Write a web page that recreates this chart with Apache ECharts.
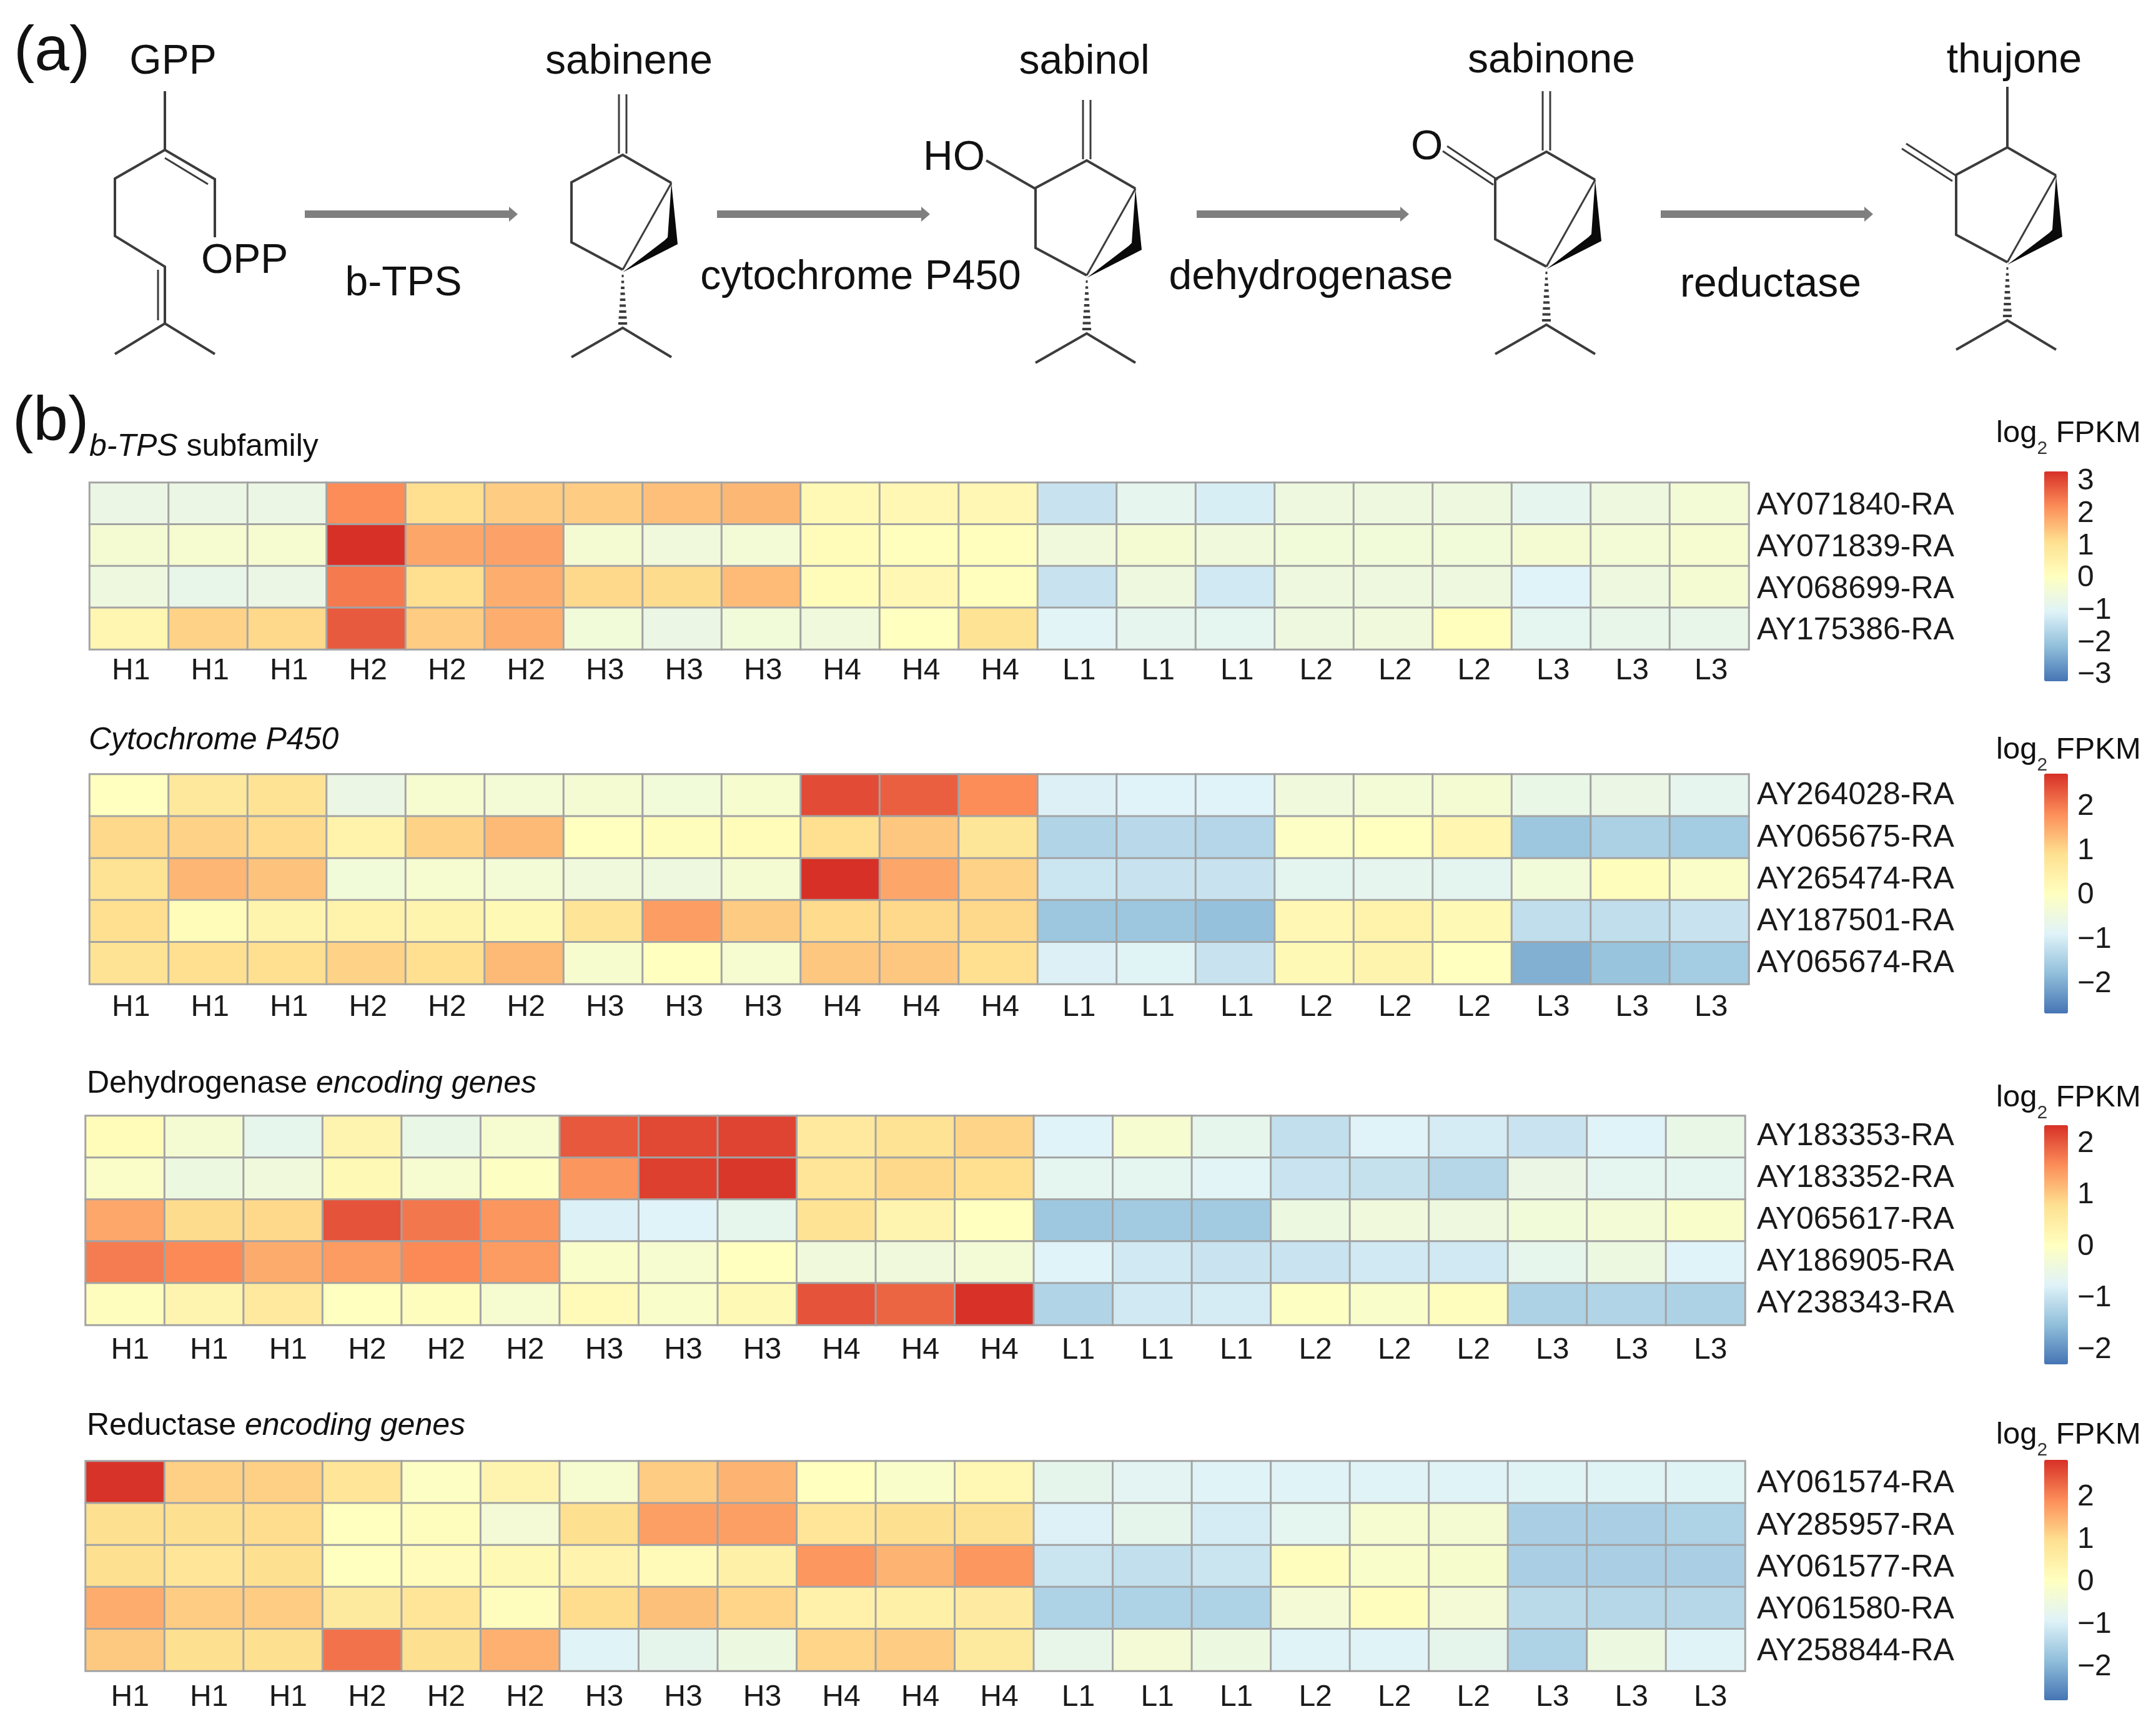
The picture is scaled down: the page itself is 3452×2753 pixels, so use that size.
<!DOCTYPE html>
<html>
<head>
<meta charset="utf-8">
<style>html,body{margin:0;padding:0;background:#fff}#c{width:3452px;height:2753px}</style>
<script src="https://cdn.jsdelivr.net/npm/echarts@6/dist/echarts.min.js"></script>
</head>
<body>
<div id="c"></div>
<script>
// ---------- data ----------
const samples = ['H1','H1','H1','H2','H2','H2','H3','H3','H3','H4','H4','H4','L1','L1','L1','L2','L2','L2','L3','L3','L3'];

const genesTps = ['AY071840-RA','AY071839-RA','AY068699-RA','AY175386-RA'];
const valuesTps = [
  [-.70,-.70,-.70,2.17,1.08,1.35,1.35,1.52,1.62,.22,.27,.27,-1.41,-.87,-1.19,-.60,-.60,-.60,-.87,-.60,-.43],
  [-.38,-.32,-.32,3.25,1.84,1.90,-.38,-.54,-.43,.11,.05,.05,-.54,-.38,-.54,-.49,-.49,-.49,-.38,-.43,-.32],
  [-.60,-.81,-.70,2.38,1.08,1.73,1.19,1.14,1.57,.11,.27,.05,-1.41,-.60,-1.30,-.60,-.60,-.60,-1.08,-.60,-.38],
  [.32,1.25,1.19,2.76,1.35,1.73,-.49,-.70,-.49,-.54,.00,.97,-1.03,-.87,-.92,-.60,-.54,.05,-.92,-.81,-.81]
];
const genesP450 = ['AY264028-RA','AY065675-RA','AY265474-RA','AY187501-RA','AY065674-RA'];
const valuesP450 = [
  [0,.68,.81,-.59,-.27,-.36,-.32,-.41,-.23,2.43,2.25,1.80,-.95,-.90,-.90,-.45,-.36,-.32,-.63,-.59,-.72],
  [.99,1.04,.95,.36,1.04,1.31,0,.05,.09,.90,1.17,.72,-1.44,-1.35,-1.40,-.09,0,.27,-1.67,-1.49,-1.58],
  [.81,1.35,1.22,-.41,-.27,-.36,-.45,-.50,-.32,2.70,1.53,1.04,-1.13,-1.17,-1.17,-.77,-.72,-.77,-.41,.05,-.14],
  [.90,.09,.32,.36,.32,.18,.77,1.62,1.13,.95,.99,.99,-1.67,-1.67,-1.76,.23,.36,.18,-1.26,-1.26,-1.17],
  [.81,.90,.90,1.04,.90,1.31,-.23,0,-.27,1.17,1.17,.90,-.95,-.86,-1.17,.18,.32,0,-1.98,-1.71,-1.58]
];
const genesDehyd = ['AY183353-RA','AY183352-RA','AY065617-RA','AY186905-RA','AY238343-RA'];
const valuesDehyd = [
  [.08,-.27,-.61,.27,-.54,-.23,1.99,2.11,2.15,.54,.69,.88,-.77,-.23,-.61,-1.07,-.77,-.88,-1.00,-.77,-.54],
  [-.12,-.46,-.38,.15,-.23,-.04,1.46,2.19,2.26,.65,.84,.77,-.65,-.65,-.73,-1.00,-1.04,-1.19,-.50,-.65,-.65],
  [1.30,.81,.84,2.03,1.73,1.46,-.81,-.77,-.61,.69,.27,0,-1.42,-1.38,-1.38,-.46,-.38,-.42,-.35,-.31,-.15],
  [1.69,1.57,1.27,1.42,1.57,1.42,-.15,-.23,0,-.38,-.38,-.31,-.77,-.92,-1.00,-1.00,-.92,-.92,-.61,-.46,-.77],
  [.04,.27,.54,0,.04,-.23,.12,-.15,.15,2.03,1.88,2.30,-1.23,-.92,-.88,-.04,-.15,.04,-1.27,-1.23,-1.27]
];
const genesRed = ['AY061574-RA','AY285957-RA','AY061577-RA','AY061580-RA','AY258844-RA'];
const valuesRed = [
  [2.80,1.12,1.12,.79,-.09,.33,-.28,1.17,1.45,0,-.19,.23,-.75,-.84,-.93,-.93,-.93,-.93,-.90,-.90,-.90],
  [.93,.93,.98,0,.05,-.37,.93,1.68,1.68,.79,.93,.89,-.98,-.75,-1.07,-.79,-.28,-.33,-1.59,-1.59,-1.54],
  [.93,.79,.93,0,.09,.19,.37,.14,.47,1.77,1.45,1.77,-1.21,-1.31,-1.21,.05,-.19,-.23,-1.59,-1.59,-1.59],
  [1.54,1.17,1.17,.65,.79,.05,.98,1.31,1.07,.42,.47,.61,-1.54,-1.54,-1.54,-.37,.05,-.37,-1.40,-1.45,-1.45],
  [1.21,.93,.93,2.15,.93,1.49,-.93,-.75,-.56,1.07,1.17,.65,-.70,-.37,-.56,-.93,-.93,-.75,-1.54,-.56,-.93]
];
const ticksTps = [-3,-2,-1,0,1,2,3];
const ticksOther = [-2,-1,0,1,2];

// ---------- layout ----------
const FONT = '"Liberation Sans", Arial, sans-serif';
const palette = ['#4575B4','#91BFDB','#E0F3F8','#FFFFBF','#FEE090','#FC8D59','#D73027'];
const panels = [
  {genes:genesTps,  values:valuesTps,  left:143.5,right:2800,top:773, bottom:1040,labelGap:11,xShift:3, rowGap:13, rowShift:4, R:3.25, ticks:ticksTps,  barTop:755, barH:336},
  {genes:genesP450, values:valuesP450, left:143.5,right:2800,top:1240,bottom:1576,labelGap:14,xShift:3, rowGap:13, rowShift:1, R:2.7,  ticks:ticksOther,barTop:1239,barH:384},
  {genes:genesDehyd,values:valuesDehyd,left:137,  right:2794,top:1787,bottom:2122,labelGap:17,xShift:8, rowGap:19, rowShift:0, R:2.32, ticks:ticksOther,barTop:1802,barH:383},
  {genes:genesRed,  values:valuesRed,  left:137,  right:2794,top:2340,bottom:2676,labelGap:19,xShift:8, rowGap:19, rowShift:3, R:2.83, ticks:ticksOther,barTop:2338,barH:385}
];
const barLeft = 3273, barW = 38;

const grid=[], xAxis=[], yAxis=[], series=[], visualMap=[];
panels.forEach((p,i)=>{
  grid.push({left:p.left, top:p.top, width:p.right-p.left, height:p.bottom-p.top, containLabel:false});
  xAxis.push({type:'category', gridIndex:i, data:samples, axisLine:{show:false}, axisTick:{show:false}, splitLine:{show:false},
    axisLabel:{interval:0, margin:p.labelGap, fontFamily:FONT, fontSize:48, color:'#1a1a1a', padding:[0,0,0,p.xShift*2]}});
  yAxis.push({type:'category', gridIndex:i, inverse:true, position:'right', data:p.genes, axisLine:{show:false}, axisTick:{show:false}, splitLine:{show:false},
    axisLabel:{interval:0, margin:p.rowGap, formatter:v=>'{r|'+v+'}',
      rich:{r:{fontFamily:FONT, fontSize:50, color:'#1a1a1a', padding:[p.rowShift*2,0,0,0]}}}});
  const cells=[];
  p.values.forEach((row,r)=>row.forEach((v,c)=>cells.push([c,r,v])));
  series.push({type:'heatmap', xAxisIndex:i, yAxisIndex:i, data:cells, silent:true, progressive:0,
    itemStyle:{borderColor:'#a3a3a3', borderWidth:3}, emphasis:{disabled:true}, animation:false});
  visualMap.push({type:'continuous', seriesIndex:i, min:-p.R, max:p.R, calculable:false, realtime:false, hoverLink:false,
    left:barLeft, top:p.barTop, itemWidth:barW, itemHeight:p.barH, padding:0, text:null, showLabel:false,
    inRange:{color:palette}, textStyle:{color:'transparent',fontSize:1}});
});
// colour-bar scales, one value axis per legend (nudged to sit on the reference's labels)
panels.forEach((p,i)=>{
  const g=grid.length;
  grid.push({left:barLeft, top:p.barTop+3, width:barW, height:p.barH});
  xAxis.push({type:'value', gridIndex:g, show:false, min:0, max:1});
  yAxis.push({type:'value', gridIndex:g, position:'right', min:-p.R, max:p.R, splitLine:{show:false}, axisLine:{show:false}, axisTick:{show:false},
    axisLabel:{customValues:p.ticks, margin:15, fontFamily:FONT, fontSize:48, color:'#1a1a1a',
      formatter:v=>v<0?'\u2212'+Math.abs(v):String(v)}});
});

// ---------- pathway scheme (decoration, not data) ----------
const g=[];
const INK='#3c3c3c';
function T(text,x,base,size,align,extra){
  g.push({type:'text', silent:true, style:Object.assign({text, x, y:base-size*0.28, fontFamily:FONT, fontSize:size, fill:'#111',
    textAlign:align||'left', textVerticalAlign:'middle'},extra||{})});
}
function L(pts,w){g.push({type:'polyline',silent:true,shape:{points:pts},style:{stroke:INK,lineWidth:w||4,fill:null,lineJoin:'miter'}});}
function mol(dx,dy,opt){
  const P=(x,y)=>[x+dx,y+dy];
  L([P(1075,293),P(997,248),P(915,292),P(915,388),P(997,432)]);
  L([P(997,432),P(1075,293)],3);
  g.push({type:'polygon',silent:true,shape:{points:[P(1075,293),P(1085,391),P(997,436),P(1064,385),P(1069,380)]},style:{fill:'#0a0a0a'}});
  if(opt.single){L([P(997,151),P(997,248)]);}
  else{L([P(991,151),P(991,246)],3);L([P(1003,151),P(1003,246)],3);}
  for(let k=0;k<9;k++){
    const y=442+k*9.5, h=1.5+k*0.7;
    L([P(997-h,y),P(997+h,y)],4);
  }
  L([P(915,572),P(997,525),P(1075,572)]);
}
// GPP
L([[264,146],[264,240]]);
L([[344,380],[344,287],[264,240],[184,286],[184,378],[264,427],[264,518]]);
L([[264,253],[333,295]],3);
L([[253,432],[253,513]],3);
L([[184,567],[264,518],[344,567]]);
mol(0,0,{});
mol(743,9,{});
L([[1659,303],[1579,257]]);
mol(1479,-5,{});
L([[2398,288],[2317,234]],3);
L([[2391,296],[2310,242]],3);
mol(2217,-12,{single:true});
L([[3133,282],[3052,230]],3);
L([[3126,290],[3045,238]],3);
[[488,829],[1148,1489],[1916,2256],[2659,2999]].forEach(a=>{
  g.push({type:'polygon',silent:true,shape:{points:[[a[0],337],[a[1]-14,337],[a[1]-14,331],[a[1],343],[a[1]-14,355],[a[1]-14,349],[a[0],349]]},style:{fill:'#7f7f7f'}});
});
T('(a)',22,112,100);
T('GPP',277,118,66,'center');
T('OPP',322,437,66);
T('sabinene',1007,118,66,'center');
T('sabinol',1736,118,66,'center');
T('sabinone',2484,116,66,'center');
T('thujone',3225,116,66,'center');
T('HO',1478,272,66);
T('O',2259,255,66);
T('b-TPS',646,473,66,'center');
T('cytochrome P450',1378,463,66,'center');
T('dehydrogenase',2099,463,66,'center');
T('reductase',2835,475,66,'center');
T('(b)',20,705,100);
const rich={i:{fontFamily:FONT,fontSize:50,fontStyle:'italic',fill:'#111'},n:{fontFamily:FONT,fontSize:50,fill:'#111'},
            a:{fontFamily:FONT,fontSize:49,fill:'#111',lineHeight:78},s:{fontFamily:FONT,fontSize:30,fill:'#333',verticalAlign:'bottom',lineHeight:78}};
T('{i|b-TPS}{n| subfamily}',143,730,50,'left',{rich});
T('{i|Cytochrome P450}',142,1200,50,'left',{rich});
T('{n|Dehydrogenase }{i|encoding genes}',139,1750,50,'left',{rich});
T('{n|Reductase }{i|encoding genes}',139,2298,50,'left',{rich});
[708,1215,1772,2312].forEach(b=>T('{a|log}{s|2}{a| FPKM}',3196,b,49,'left',{rich}));

const chart=echarts.init(document.getElementById('c'),null,{width:3452,height:2753,renderer:'canvas'});
chart.setOption({backgroundColor:'#fff',animation:false,tooltip:{show:false},grid,xAxis,yAxis,visualMap,series,graphic:{elements:g}});
</script>
</body>
</html>
